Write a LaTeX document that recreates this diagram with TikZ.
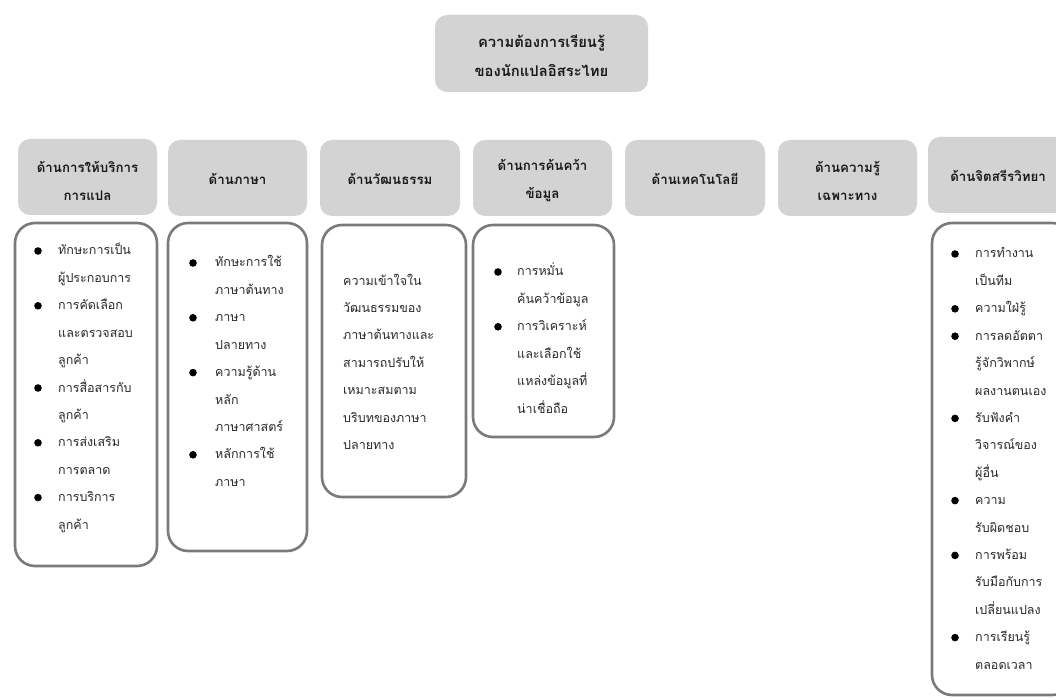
\documentclass[tikz,border=0pt]{standalone}
\usepackage{fontspec}
\setmainfont[Script=Thai]{Loma}
\definecolor{hdrgray}{HTML}{D3D3D3}
\definecolor{edge}{HTML}{7A7A7A}
\definecolor{ink}{HTML}{1A1A1A}
\definecolor{body}{HTML}{2A2A2A}
\begin{document}
\begin{tikzpicture}[x=1pt,y=-1pt,
  hdrbox/.style={fill=hdrgray, rounded corners=12pt, inner sep=0},
  hdrtext/.style={align=center, text=ink, inner sep=0,
    font=\bfseries\fontsize{13.3}{28}\selectfont},
  titletext/.style={align=center, text=ink, inner sep=0,
    font=\bfseries\fontsize{14.8}{29.5}\selectfont},
  detail/.style={draw=edge, line width=2.6pt, rounded corners=20pt, fill=white, inner sep=0},
  item/.style={anchor=base west, inner sep=0, text=body, font=\fontsize{12.5}{15}\selectfont},
  dot/.style={fill=black}]
\useasboundingbox (0,0) rectangle (1056,700);
\clip (0,0) rectangle (1056,700);

% title
\node[hdrbox, minimum width=213, minimum height=77] (top) at (541.5,53.5) {};
\node[titletext] (toptext) at (541.5,56) {ความต้องการเรียนรู้\\ของนักแปลอิสระไทย};

% category headers
\node[hdrbox, minimum width=139, minimum height=76] (h1) at (87.5,177) {};
\node[hdrbox, minimum width=139, minimum height=76] (h2) at (237.5,178) {};
\node[hdrbox, minimum width=140, minimum height=76] (h3) at (390,178) {};
\node[hdrbox, minimum width=139, minimum height=76] (h4) at (542.5,178) {};
\node[hdrbox, minimum width=140, minimum height=76] (h5) at (695,178) {};
\node[hdrbox, minimum width=139, minimum height=76] (h6) at (847.5,178) {};
\node[hdrbox, minimum width=140, minimum height=76] (h7) at (998,175) {};

\node[hdrtext] (t1) at (87.5,180.5) {ด้านการให้บริการ\\การแปล};
\node[hdrtext] (t2) at (237.5,178.5) {ด้านภาษา};
\node[hdrtext] (t3) at (390,178.5) {ด้านวัฒนธรรม};
\node[hdrtext] (t4) at (542.5,180.5) {ด้านการค้นคว้า\\ข้อมูล};
\node[hdrtext] (t5) at (695,178.5) {ด้านเทคโนโลยี};
\node[hdrtext] (t6) at (847.5,181) {ด้านความรู้\\เฉพาะทาง};
\node[hdrtext] (t7) at (998,175.5) {ด้านจิตสรีรวิทยา};

% detail frames
\node[detail, minimum width=142, minimum height=343] (d1) at (86,394.5) {};
\node[detail, minimum width=139, minimum height=328] (d2) at (237.5,387) {};
\node[detail, minimum width=144, minimum height=272] (d3) at (394,361) {};
\node[detail, minimum width=141, minimum height=212] (d4) at (543.5,331) {};
\node[detail, minimum width=140, minimum height=472] (d7) at (1002,459) {};

% service list
\foreach \b/\t [count=\i from 0] in {1/ทักษะการเป็น,0/ผู้ประกอบการ,1/การคัดเลือก,0/และตรวจสอบ,0/ลูกค้า,
  1/การสื่อสารกับ,0/ลูกค้า,1/การส่งเสริม,0/การตลาด,1/การบริการ,0/ลูกค้า}{
  \node[item] (a\i) at (58,255+27.4*\i) {\t};
  \ifnum\b=1 \fill[dot] (38,251+27.4*\i) circle (3.8); \fi
}

% language list
\foreach \b/\t [count=\i from 0] in {1/ทักษะการใช้,0/ภาษาต้นทาง,1/ภาษา,0/ปลายทาง,1/ความรู้ด้าน,
  0/หลัก,0/ภาษาศาสตร์,1/หลักการใช้,0/ภาษา}{
  \node[item] (b\i) at (215,267+27.4*\i) {\t};
  \ifnum\b=1 \fill[dot] (193,263+27.4*\i) circle (3.8); \fi
}

% culture text
\foreach \t [count=\i from 0] in {ความเข้าใจใน,วัฒนธรรมของ,ภาษาต้นทางและ,สามารถปรับให้,
  เหมาะสมตาม,บริบทของภาษา,ปลายทาง}{
  \node[item] (c\i) at (343,285+27.4*\i) {\t};
}

% research list
\foreach \b/\t [count=\i from 0] in {1/การหมั่น,0/ค้นคว้าข้อมูล,1/การวิเคราะห์,0/และเลือกใช้,
  0/แหล่งข้อมูลที่,0/น่าเชื่อถือ}{
  \node[item] (e\i) at (517,276+27.4*\i) {\t};
  \ifnum\b=1 \fill[dot] (498,272+27.4*\i) circle (3.8); \fi
}

% psychology list
\foreach \b/\t [count=\i from 0] in {1/การทำงาน,0/เป็นทีม,1/ความใฝ่รู้,1/การลดอัตตา,0/รู้จักวิพากษ์,
  0/ผลงานตนเอง,1/รับฟังคำ,0/วิจารณ์ของ,0/ผู้อื่น,1/ความ,0/รับผิดชอบ,1/การพร้อม,
  0/รับมือกับการ,0/เปลี่ยนแปลง,1/การเรียนรู้,0/ตลอดเวลา}{
  \node[item] (g\i) at (975,258+27.4*\i) {\t};
  \ifnum\b=1 \fill[dot] (955,254+27.4*\i) circle (3.8); \fi
}
\end{tikzpicture}
\end{document}
